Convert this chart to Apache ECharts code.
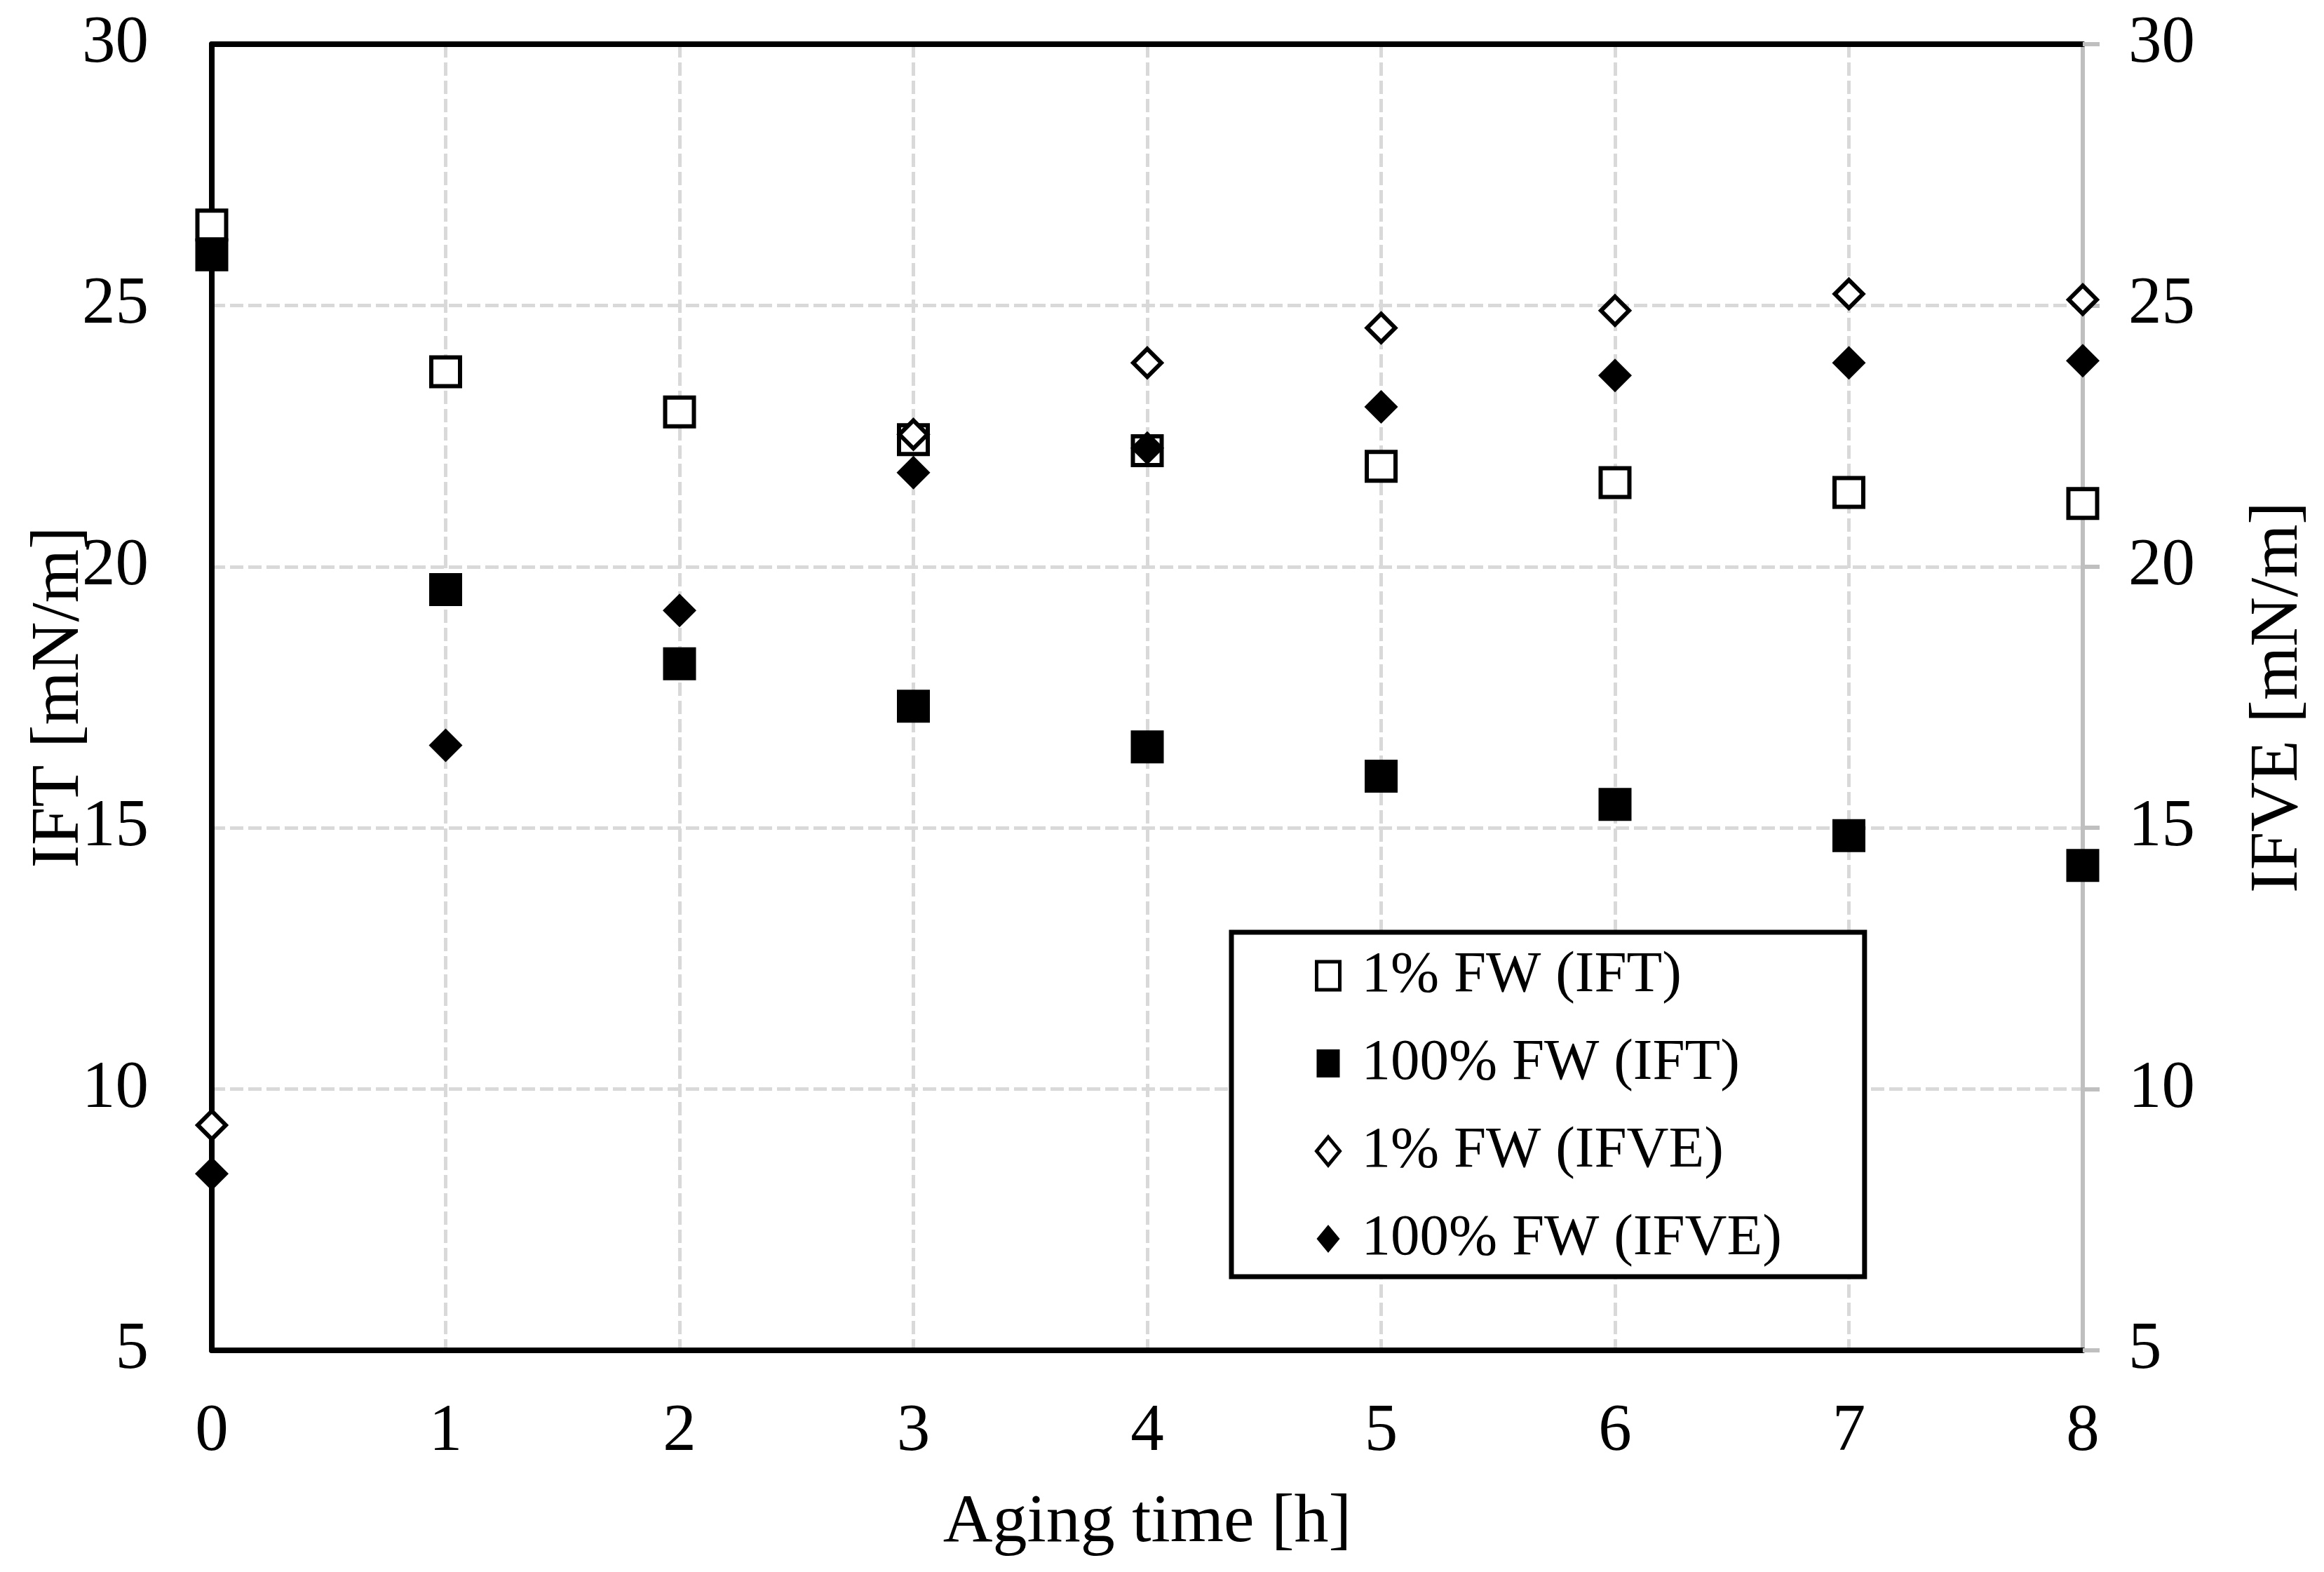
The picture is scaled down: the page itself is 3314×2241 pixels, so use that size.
<!DOCTYPE html>
<html>
<head>
<meta charset="utf-8">
<script src="https://cdn.jsdelivr.net/npm/echarts@6/dist/echarts.min.js"></script>
<style>
html,body{margin:0;padding:0;background:#fff;}
#chart{width:3314px;height:2241px;}
</style>
</head>
<body>
<div id="chart"></div>
<script>
// ---- data ----
const agingTime = [0, 1, 2, 3, 4, 5, 6, 7, 8];
const ift1 = [26.54, 23.73, 22.96, 22.43, 22.22, 21.92, 21.61, 21.42, 21.21];
const ift100 = [25.97, 19.56, 18.14, 17.33, 16.55, 15.99, 15.45, 14.85, 14.28];
const ifve1 = [9.31, null, null, 22.53, 23.9, 24.57, 24.9, 25.22, 25.11];
const ifve100 = [8.38, 16.58, 19.16, 21.8, 22.27, 23.06, 23.66, 23.9, 23.94];
const xTicks = [0, 1, 2, 3, 4, 5, 6, 7, 8];
const yTicks = [5, 10, 15, 20, 25, 30];
const seriesNames = ['1% FW (IFT)', '100% FW (IFT)', '1% FW (IFVE)', '100% FW (IFVE)'];

const FONT = '"Liberation Serif", "Times New Roman", serif';
const pairs = arr => agingTime.map((t, i) => [t, arr[i]]).filter(p => p[1] !== null);

const openStyle = {color: '#ffffff', borderColor: '#000000', borderWidth: 6, opacity: 1};
const fillStyle = {color: '#000000', borderWidth: 0, opacity: 1};

const chart = echarts.init(document.getElementById('chart'), null, {renderer: 'canvas'});
chart.setOption({
  animation: false,
  backgroundColor: '#ffffff',
  grid: {left: 302, right: 344, top: 63, bottom: 316, containLabel: false, outerBoundsMode: 'none'},
  xAxis: [{
    type: 'value', min: xTicks[0], max: xTicks[xTicks.length - 1], interval: 1,
    position: 'bottom',
    axisLine: {show: true, onZero: false, lineStyle: {color: '#000', width: 8}},
    axisTick: {show: false},
    axisLabel: {fontFamily: FONT, fontSize: 95, color: '#000', margin: 70},
    splitLine: {show: true, lineStyle: {color: '#d9d9d9', width: 5, type: [19, 7]}},
    name: 'Aging time [h]', nameLocation: 'middle', nameGap: 197,
    nameTextStyle: {fontFamily: FONT, fontSize: 98, color: '#000'}
  }, {
    type: 'value', min: 0, max: 8, interval: 1, position: 'top',
    axisLine: {show: true, onZero: false, lineStyle: {color: '#000', width: 8}},
    axisTick: {show: false}, axisLabel: {show: false}, splitLine: {show: false}
  }],
  yAxis: [{
    type: 'value', min: yTicks[0], max: yTicks[yTicks.length - 1], interval: 5,
    position: 'left',
    axisLine: {show: true, onZero: false, lineStyle: {color: '#000', width: 8}},
    axisTick: {show: false},
    axisLabel: {fontFamily: FONT, fontSize: 95, color: '#000', margin: 90},
    splitLine: {show: true, lineStyle: {color: '#d9d9d9', width: 5, type: [19, 7]}},
    name: 'IFT [mN/m]', nameLocation: 'middle', nameGap: 168, nameRotate: 90,
    nameMoveOverlap: false,
    nameTextStyle: {fontFamily: FONT, fontSize: 98, color: '#000'}
  }, {
    type: 'value', min: yTicks[0], max: yTicks[yTicks.length - 1], interval: 5,
    position: 'right',
    axisLine: {show: true, onZero: false, lineStyle: {color: '#bfbfbf', width: 6}},
    axisTick: {show: true, inside: false, length: 24, lineStyle: {color: '#bfbfbf', width: 6}},
    axisLabel: {fontFamily: FONT, fontSize: 95, color: '#000', margin: 65},
    splitLine: {show: false},
    name: 'IFVE [mN/m]', nameLocation: 'middle', nameGap: 230, nameRotate: 90,
    nameTextStyle: {fontFamily: FONT, fontSize: 98, color: '#000'}
  }],
  legend: {
    show: true, orient: 'vertical', left: 1756, top: 1329,
    padding: [20, 118, 12, 119],
    backgroundColor: '#fff', borderColor: '#000', borderWidth: 7,
    itemWidth: 33, itemHeight: 40, itemGap: 41,
    textStyle: {fontFamily: FONT, fontSize: 83, color: '#000', lineHeight: 84, padding: [0, 0, 0, 26]},
    data: [
      {name: seriesNames[0], icon: 'rect', itemStyle: {color: '#fff', borderColor: '#000', borderWidth: 5, opacity: 1}},
      {name: seriesNames[1], icon: 'rect', itemStyle: {color: '#000', borderWidth: 0, opacity: 1}},
      {name: seriesNames[2], icon: 'diamond', itemStyle: {color: '#fff', borderColor: '#000', borderWidth: 5, opacity: 1}},
      {name: seriesNames[3], icon: 'diamond', itemStyle: {color: '#000', borderWidth: 0, opacity: 1}}
    ]
  },
  series: [{
    name: seriesNames[0], type: 'scatter', xAxisIndex: 0, yAxisIndex: 0,
    symbol: 'rect', symbolSize: 41, itemStyle: openStyle, data: pairs(ift1), z: 3
  }, {
    name: seriesNames[1], type: 'scatter', xAxisIndex: 0, yAxisIndex: 0,
    symbol: 'rect', symbolSize: 47, itemStyle: fillStyle, data: pairs(ift100), z: 4
  }, {
    name: seriesNames[2], type: 'scatter', xAxisIndex: 0, yAxisIndex: 1,
    symbol: 'diamond', symbolSize: 40, itemStyle: openStyle, data: pairs(ifve1), z: 5
  }, {
    name: seriesNames[3], type: 'scatter', xAxisIndex: 0, yAxisIndex: 1,
    symbol: 'diamond', symbolSize: 48, itemStyle: fillStyle, data: pairs(ifve100), z: 6
  }]
});
</script>
</body>
</html>
